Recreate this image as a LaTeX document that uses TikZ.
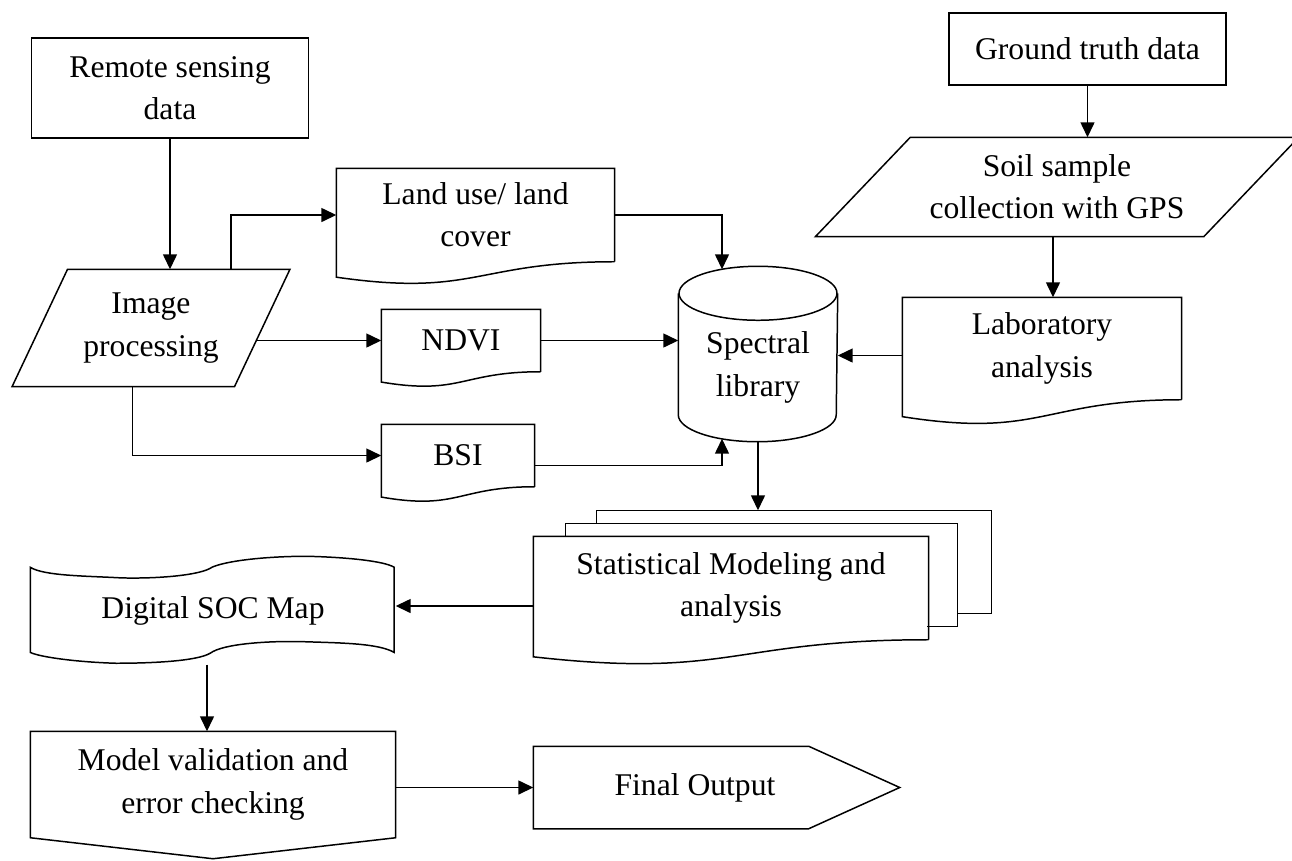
\documentclass[tikz,border=0pt]{standalone}
\usepackage{fontspec}
\setmainfont{Liberation Serif}
\usetikzlibrary{arrows.meta,calc}

\newcommand{\docoutline}[1]{%
  \draw (#1.south east) -- (#1.north east) -- (#1.north west)
    -- ($(#1.north west)!1.165!(#1.south west)$)
    .. controls ($(#1.north)!1.38!(#1.south)$) and (#1.south) .. (#1.south east);}
\newcommand{\slantoutline}[2]{%
  \draw ($(#1.north west)+(#2,0)$) -- (#1.north east) -- ($(#1.south east)+(-#2,0)$) -- (#1.south west) -- cycle;}

\begin{document}
\begin{tikzpicture}[x=0.02cm, y=-0.02cm, line width=0.85pt,
    >={Triangle[length=0.3cm, width=0.28cm]},
    every node/.style={font=\fontsize{18}{24}\selectfont, align=center, inner sep=0pt},
    shp/.style 2 args={minimum width=#1cm, minimum height=#2cm}]
    \useasboundingbox (0,0) rectangle (1292,860);

    \node[draw, shp={5.54}{2.0}] (rsd) at (170,88) {Remote sensing\\data};
    \node[draw, shp={5.54}{1.44}] (gtd) at (1087.5,49) {Ground truth data};
    \node[shp={5.53}{2.32}] (imgproc) at (151,328) {Image\\processing};
    \node[shp={9.64}{1.96}] (soil) at (1057,187) {Soil sample\\collection with GPS};
    \node[shp={5.54}{1.84}] (landuse) at (475.5,215) {Land use/ land\\cover};
    \node[shp={3.16}{1.22}] (ndvi) at (461,340.5) {NDVI};
    \node[shp={3.04}{1.22}] (bsi) at (458,455.5) {BSI};
    \node[shp={5.56}{2.02}] (lab) at (1042,348.5) {Laboratory\\analysis};
    \node[shp={3.16}{2.94}] (speclib) at (758,367.5) {Spectral\\library};
    \node[shp={7.88}{2.04}] (stat) at (731,588) {Statistical Modeling and\\analysis};
    \node[shp={7.28}{2.14}] (soc) at (213,610.5) {Digital SOC Map};
    \node[shp={7.28}{2.1}] (model) at (213,784.5) {Model validation and\\error checking};
    \node[shp={6.44}{1.62}] (final) at (695,787.5) {Final Output};

    \slantoutline{imgproc}{55.5}
    \slantoutline{soil}{95}
    \docoutline{landuse}
    \docoutline{ndvi}
    \docoutline{bsi}
    \docoutline{lab}
    \docoutline{stat}
    \draw ($(stat.north west)+(32,0)$) -- ++(0,-13) -- ++(392,0) -- ++(0,103) -- ++(-30,0);
    \draw ($(stat.north west)+(63,-13)$) -- ++(0,-13) -- ++(395,0) -- ++(0,103) -- ++(-34,0);

    \draw (speclib.north) ellipse [x radius=1.58cm, y radius=0.54cm];
    \draw (speclib.north west) -- ($(speclib.south west)+(0,-27)$)
        arc [start angle=180, end angle=360, x radius=1.58cm, y radius=0.54cm] -- (speclib.north east);

    \begin{scope}[shift={(soc.north west)}, x=7.28cm, y=-2.14cm]
        \draw (0,0.103) .. controls (0.038,0.185) and (0.158,0.184) .. (0.249,0.202)
            .. controls (0.346,0.211) and (0.468,0.180) .. (0.5,0.101)
            .. controls (0.548,0.033) and (0.664,0) .. (0.759,0)
            .. controls (0.864,0.008) and (0.972,0.043) .. (1,0.103) -- (1,0.899)
            .. controls (0.956,0.811) and (0.848,0.810) .. (0.747,0.798)
            .. controls (0.651,0.790) and (0.529,0.819) .. (0.495,0.905)
            .. controls (0.458,0.981) and (0.333,1) .. (0.235,1)
            .. controls (0.129,0.989) and (0.029,0.944) .. (0,0.899) -- cycle;
    \end{scope}

    \draw (model.north west) -- (model.north east) -- (model.south east) -- ($(model.south)+(0,21)$) -- (model.south west) -- cycle;
    \draw (final.north west) -- ($(final.north east)+(-48,0)$) -- ($(final.east)+(43,0)$) -- ($(final.south east)+(-48,0)$) -- (final.south west) -- cycle;

    \coordinate (soilout) at ($(soil.south)+(-4,0)$);
    \coordinate (labout) at ($(lab.west)+(0,7)$);
    \coordinate (stattop) at ($(stat.north)+(0,-26)$);
    \coordinate (statout) at ($(stat.west)+(0,18)$);
    \coordinate (socout) at ($(soc.south)+(-6,0)$);

    \draw[->] (rsd.south) -- (rsd.south |- imgproc.north);
    \draw[->] ($(imgproc.north east)+(-59,0)$) |- (landuse.west);
    \draw[->] ($(imgproc.east)+(-33,12.5)$) -- (ndvi.west);
    \draw[->] ($(imgproc.south west)+(120.5,0)$) |- (bsi.west);
    \draw[->] (landuse.east) -| ($(speclib.north)+(-36,-24)$);
    \draw[->] (ndvi.east) -- (ndvi.east -| speclib.west);
    \draw[->] ($(bsi.east)+(0,10)$) -| ($(speclib.south)+(-36,-3)$);
    \draw[->] (labout) -- (labout -| speclib.east);
    \draw[->] (gtd.south) -- (gtd.south |- soil.north);
    \draw[->] (soilout) -- (soilout |- lab.north);
    \draw[->] (speclib.south) -- (speclib.south |- stattop);
    \draw[->] (statout) -- (statout -| soc.east);
    \draw[->] (socout) -- (socout |- model.north);
    \draw[->] (model.east |- final.west) -- (final.west);
\end{tikzpicture}
\end{document}
